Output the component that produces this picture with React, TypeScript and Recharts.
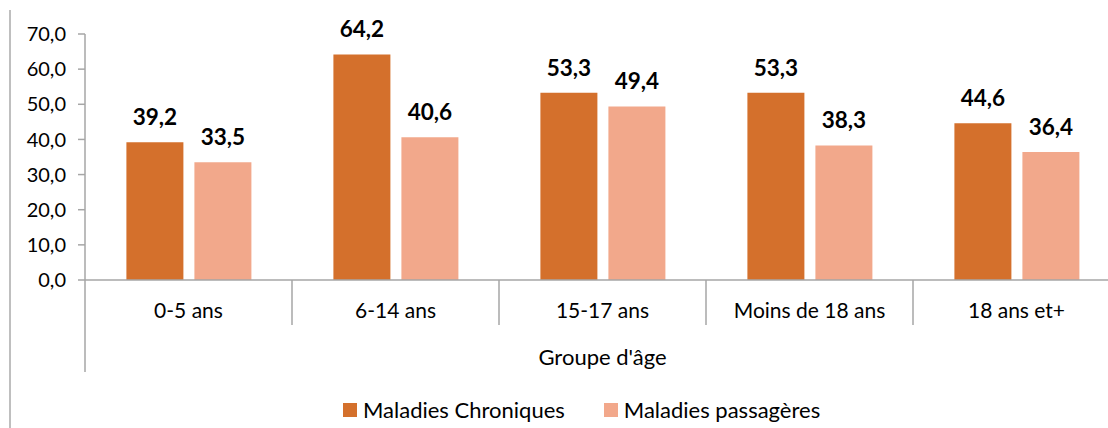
import React from "react";
import { BarChart, Bar, XAxis, YAxis, LabelList } from "recharts";

const categories = ["0-5 ans", "6-14 ans", "15-17 ans", "Moins de 18 ans", "18 ans et+"];
const chroniques = [39.2, 64.2, 53.3, 53.3, 44.6];
const passageres = [33.5, 40.6, 49.4, 38.3, 36.4];
const yTicks = [0, 10, 20, 30, 40, 50, 60, 70];
const seriesNames = ["Maladies Chroniques", "Maladies passagères"];
const seriesColors = ["#D4702C", "#F2A88B"];
const axisTitle = "Groupe d'âge";

const data = categories.map((c, i) => ({
  name: c,
  chroniques: chroniques[i],
  passageres: passageres[i],
}));

const FONT = "Lato, 'Open Sans', sans-serif";
const AXIS = "#A6A6A6";

const CHART_W = 1140;
const CHART_H = 428;
const MARGIN = { top: 34, right: 20, bottom: 0, left: 0 };
const Y_W = 85;
const BAND_HALF = (CHART_W - MARGIN.left - MARGIN.right - Y_W) / categories.length / 2;

const fmt = (v: number) => v.toFixed(1).replace(".", ",");

const CategoryTick = (props: any) => {
  const { x, y, payload, index } = props;
  const half = payload && payload.offset ? payload.offset : BAND_HALF;
  const left = x - half;
  return (
    <g>
      <line x1={left} y1={y} x2={left} y2={index === 0 ? y + 92 : y + 45} stroke={AXIS} strokeWidth={1.5} />
      {index === categories.length - 1 && (
        <line x1={x + half} y1={y} x2={x + half} y2={y + 45} stroke={AXIS} strokeWidth={1.5} />
      )}
      <text x={x} y={y + 38} textAnchor="middle" fontSize={21} fontFamily={FONT} fill="#000">
        {payload.value}
      </text>
    </g>
  );
};

export default function App() {
  return (
    <div
      style={{
        position: "absolute",
        left: 0,
        top: 0,
        width: 1108,
        height: 428,
        overflow: "hidden",
        background: "#fff",
      }}
    >
      <div
        style={{
          position: "absolute",
          left: 9,
          top: 10,
          width: 2,
          height: 418,
          background: "#BFBFBF",
        }}
      />
      <div style={{ position: "absolute", left: 0, top: 0 }}>
        <BarChart
          width={CHART_W}
          height={CHART_H}
          data={data}
          margin={MARGIN}
          barCategoryGap="20%"
          barGap={11}
        >
          <YAxis
            width={Y_W}
            domain={[0, 70]}
            ticks={yTicks}
            interval={0}
            tickFormatter={fmt}
            tickSize={7}
            tickMargin={12}
            axisLine={{ stroke: AXIS, strokeWidth: 1.5 }}
            tickLine={{ stroke: AXIS, strokeWidth: 1.5 }}
            tick={{ fontSize: 20, fontFamily: FONT, fill: "#000" }}
          />
          <XAxis
            dataKey="name"
            height={CHART_H - MARGIN.top - 246}
            interval={0}
            tickSize={0}
            tickMargin={0}
            tickLine={false}
            axisLine={{ stroke: AXIS, strokeWidth: 1.5 }}
            tick={<CategoryTick />}
            label={{
              value: axisTitle,
              position: "insideTop",
              offset: 69,
              fontSize: 22,
              fontFamily: FONT,
              fill: "#000",
            }}
          />
          <Bar dataKey="chroniques" fill={seriesColors[0]} isAnimationActive={false}>
            <LabelList
              dataKey="chroniques"
              position="top"
              offset={17}
              formatter={(v: any) => fmt(Number(v))}
              style={{ fontSize: 22.5, fontWeight: 700, fontFamily: FONT, fill: "#000" }}
            />
          </Bar>
          <Bar dataKey="passageres" fill={seriesColors[1]} isAnimationActive={false}>
            <LabelList
              dataKey="passageres"
              position="top"
              offset={17}
              formatter={(v: any) => fmt(Number(v))}
              style={{ fontSize: 22.5, fontWeight: 700, fontFamily: FONT, fill: "#000" }}
            />
          </Bar>
        </BarChart>
      </div>
      <div
        style={{
          position: "absolute",
          left: 343,
          top: 396,
          display: "flex",
          alignItems: "center",
          fontFamily: FONT,
          fontSize: 22,
          color: "#000",
        }}
      >
        {seriesNames.map((n, i) => (
          <div key={n} style={{ display: "flex", alignItems: "center", marginRight: 39 }}>
            <span
              style={{
                display: "inline-block",
                width: 14,
                height: 14,
                background: seriesColors[i],
                marginRight: 6,
              }}
            />
            <span>{n}</span>
          </div>
        ))}
      </div>
    </div>
  );
}
